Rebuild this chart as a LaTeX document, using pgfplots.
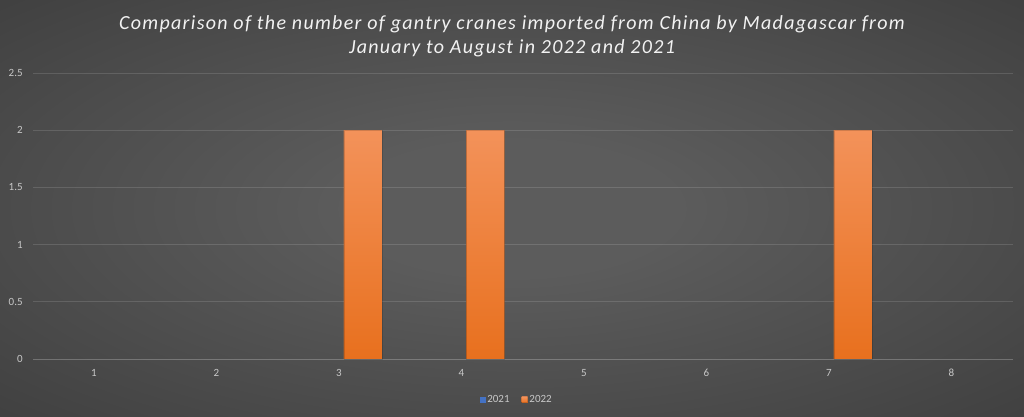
\documentclass[border=0pt]{standalone}
\usepackage{pgfplots}
\pgfplotsset{compat=1.18}
\usepackage{fontspec}
\setmainfont{Carlito}
\definecolor{bgin}{HTML}{5C5C5C}
\definecolor{bgout}{HTML}{262626}
\definecolor{titlec}{HTML}{F2F2F2}
\definecolor{tickc}{HTML}{C8C8C8}
\definecolor{blue21}{HTML}{4472C4}
\definecolor{orgtop}{HTML}{F3925A}
\definecolor{orgbot}{HTML}{E8701E}
\pgfdeclareradialshading{bgshade}{\pgfpoint{0bp}{0bp}}{color(0bp)=(bgin); color(8bp)=(bgin); color(62bp)=(bgout); color(100bp)=(bgout)}
\pgfplotsset{set layers}
\begin{document}
\begin{tikzpicture}
\begin{axis}[
  scale only axis, width=980pt, height=286pt,
  clip=false,
  xmin=0.5, xmax=8.5, ymin=0, ymax=2.5,
  xtick={1,2,3,4,5,6,7,8},
  ytick={0,0.5,1,1.5,2,2.5},
  yticklabels={0,0.5,1,1.5,2,2.5},
  ymajorgrids,
  major grid style={white, opacity=0.13, line width=0.8pt},
  extra y ticks={0},
  extra y tick labels={},
  extra y tick style={grid style={tickc!85!black, opacity=1, line width=1pt}},
  axis line style={draw=none},
  major tick length=0pt,
  /pgf/number format/assume math mode=true,
  tick label style={text=tickc, font=\fontsize{11}{13}\selectfont},
  yticklabel style={xshift=-6.5pt},
  xticklabel style={yshift=-6.5pt},
  title={Comparison of the number of gantry cranes imported from China by Madagascar from\\January to August in 2022 and 2021},
  title style={at={(0.4891,1.107)}, anchor=center, align=center, text=titlec, font=\itshape\addfontfeatures{LetterSpace=6.5}\fontsize{20}{24}\selectfont},
  legend style={at={(0.4937,-0.143)}, anchor=center, draw=none, fill=none, text=tickc, font=\fontsize{11}{13}\selectfont, legend columns=2, /tikz/every even column/.append style={column sep=10pt}, nodes={inner sep=1.5pt}},
  legend image code/.code={\fill[#1] (0pt,-3pt) rectangle (6pt,3pt);},
]
\begin{pgfonlayer}{axis background}
\shade[shading=bgshade] (rel axis cs:-0.033367,-0.202797) rectangle (rel axis cs:1.011531,1.255245);
\end{pgfonlayer}
\addplot[ybar, bar width=0.31, bar shift=-0.196, draw=none, fill=blue21, y filter/.expression={y==0 ? nan : y}, unbounded coords=discard, forget plot] coordinates {(1,0) (2,0) (3,0) (4,0) (5,0) (6,0) (7,0) (8,0)};
\addlegendimage{fill=blue21, draw=none}
\addlegendentry{2021}
\addplot[ybar, bar width=0.31, bar shift=0.196, draw=black, draw opacity=0.15, line width=0.8pt, fill=orgbot, top color=orgtop, bottom color=orgbot, y filter/.expression={y==0 ? nan : y}, unbounded coords=discard] coordinates {(1,0) (2,0) (3,2) (4,2) (5,0) (6,0) (7,2) (8,0)};
\addlegendentry{2022}
\end{axis}
\end{tikzpicture}
\end{document}
